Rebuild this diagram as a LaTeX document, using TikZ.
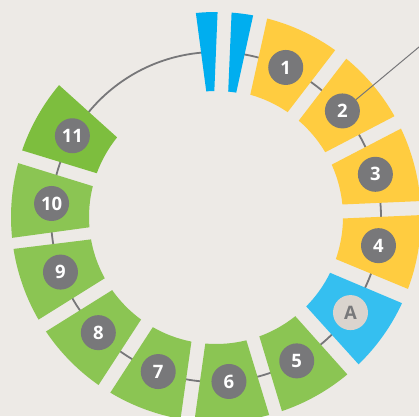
\documentclass[tikz,border=0pt]{standalone}
\usepackage{fontspec}
\setmainfont{Open Sans}
\definecolor{bgc}{HTML}{EDEAE6}
\definecolor{yel}{HTML}{FFCC40}
\definecolor{skyb}{HTML}{35BFF0}
\definecolor{barb}{HTML}{00AEEF}
\definecolor{grn}{HTML}{8BC553}
\definecolor{grnd}{HTML}{7DBE3E}
\definecolor{ringg}{HTML}{777779}
\definecolor{circg}{HTML}{78787A}
\definecolor{lightc}{HTML}{DAD4CE}
\newcommand\segm[2]{%
  \pgfmathsetmacro\oa{#1-10.54}\pgfmathsetmacro\ob{#1+10.54}%
  \pgfmathsetmacro\ia{#1+9.34}\pgfmathsetmacro\ib{#1-9.34}%
  \fill[#2] (\oa:205pt) arc[start angle=\oa, end angle=\ob, radius=205pt]
    -- (\ia:127pt) arc[start angle=\ia, end angle=\ib, radius=127pt] -- cycle;}
\newcommand\barseg[2]{%
  \pgfmathsetmacro\oa{#1-3.04}\pgfmathsetmacro\ob{#1+3.04}%
  \pgfmathsetmacro\ia{#1+1.84}\pgfmathsetmacro\ib{#1-1.84}%
  \fill[#2] (\oa:205pt) arc[start angle=\oa, end angle=\ob, radius=205pt]
    -- (\ia:126pt) arc[start angle=\ia, end angle=\ib, radius=126pt] -- cycle;}
\tikzset{
  numc/.style={circle, fill=circg, minimum size=35pt, inner sep=0pt, text=white,
    font=\fontsize{18.5}{18.5}\selectfont\bfseries},
  letc/.style={numc, fill=lightc, text=circg},
}
\begin{document}
\begin{tikzpicture}
\fill[bgc] (0,0) rectangle (419pt,416pt);
\useasboundingbox (0,0) rectangle (419pt,416pt);
\clip (0,0) rectangle (419pt,416pt);
\begin{scope}[shift={(216pt,199pt)}]
  \draw[ringg, line width=1.8pt] (92.5:165pt) arc[start angle=92.5, end angle=442.5, radius=165pt];
  \barseg{92.6}{barb}
  \barseg{82.6}{barb}
  \segm{65}{yel}
  \segm{40}{yel}
  \segm{15}{yel}
  \segm{-10}{yel}
  \segm{-35.4}{skyb}
  \segm{-60.7}{grn}
  \segm{-85.5}{grn}
  \segm{-110.5}{grn}
  \segm{-135.5}{grn}
  \segm{-160.5}{grn}
  \segm{175.3}{grn}
  \segm{150.5}{grnd}
  \node[numc] (n1) at (65:165pt) {1};
  \node[numc] (n2) at (40:165pt) {2};
  \node[numc] (n3) at (15:165pt) {3};
  \node[numc] (n4) at (-10:165pt) {4};
  \node[letc] (na) at (-35.4:165pt) {A};
  \node[numc] (n5) at (-60.7:165pt) {5};
  \node[numc] (n6) at (-85.5:165pt) {6};
  \node[numc] (n7) at (-110.5:165pt) {7};
  \node[numc] (n8) at (-135.5:165pt) {8};
  \node[numc] (n9) at (-160.5:165pt) {9};
  \node[numc] (n10) at (175.3:165pt) {10};
  \node[numc] (n11) at (150.5:165pt) {11};
  \coordinate (edge) at (215pt,180pt);
  \draw[ringg, line width=1pt] (n2) -- (edge);
\end{scope}
\end{tikzpicture}
\end{document}
